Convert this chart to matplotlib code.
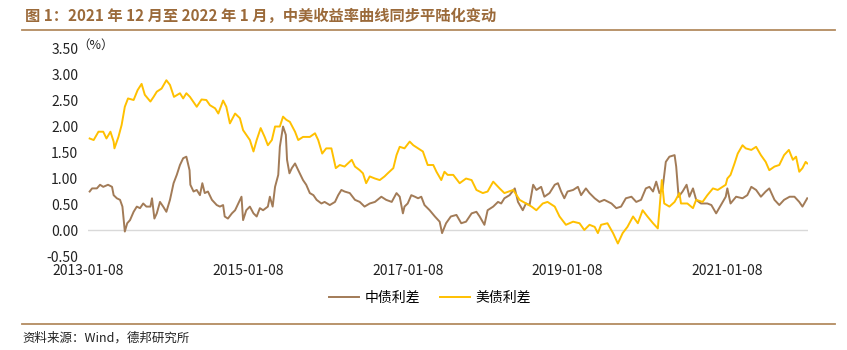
import matplotlib
matplotlib.use("Agg")
import matplotlib.pyplot as plt
import pandas as pd

plt.rcParams['font.family'] = ['Noto Sans CJK SC', 'DejaVu Sans']

# ---- data (decimal year, spread %) ----
us_t = [2013.04, 2013.09, 2013.15, 2013.21, 2013.25, 2013.30, 2013.34, 2013.35, 2013.40, 2013.44,
        2013.48, 2013.52, 2013.59, 2013.64, 2013.69, 2013.73, 2013.80, 2013.84, 2013.88, 2013.94,
        2014.00, 2014.045, 2014.095, 2014.17, 2014.21, 2014.25, 2014.295, 2014.38, 2014.44, 2014.50,
        2014.545, 2014.61, 2014.65, 2014.71, 2014.75, 2014.795, 2014.86, 2014.92, 2014.96, 2015.00,
        2015.045, 2015.09, 2015.13, 2015.18, 2015.23, 2015.27, 2015.32, 2015.36, 2015.42, 2015.46,
        2015.50, 2015.545, 2015.61, 2015.65, 2015.71, 2015.795, 2015.86, 2015.90, 2015.95, 2016.00,
        2016.065, 2016.12, 2016.17, 2016.23, 2016.32, 2016.36, 2016.42, 2016.46, 2016.50, 2016.545,
        2016.61, 2016.67, 2016.73, 2016.77, 2016.84, 2016.88, 2016.92, 2016.98, 2017.045, 2017.09,
        2017.15, 2017.21, 2017.27, 2017.34, 2017.38, 2017.44, 2017.48, 2017.52, 2017.59, 2017.67,
        2017.75, 2017.82, 2017.88, 2017.96, 2018.02, 2018.09, 2018.17, 2018.23, 2018.34, 2018.42,
        2018.50, 2018.57, 2018.63, 2018.71, 2018.77, 2018.86, 2018.92, 2019.00, 2019.09, 2019.17,
        2019.23, 2019.295, 2019.36, 2019.40, 2019.44, 2019.52, 2019.59, 2019.65, 2019.71, 2019.77,
        2019.84, 2019.90, 2019.96, 2020.02, 2020.09, 2020.15, 2020.17, 2020.20, 2020.23, 2020.295,
        2020.36, 2020.42, 2020.44, 2020.52, 2020.59, 2020.63, 2020.71, 2020.77, 2020.84, 2020.90,
        2020.96, 2021.00, 2021.02, 2021.06, 2021.11, 2021.15, 2021.21, 2021.25, 2021.32, 2021.38,
        2021.44, 2021.50, 2021.545, 2021.61, 2021.67, 2021.73, 2021.79, 2021.84, 2021.88, 2021.92,
        2021.96, 2022.00, 2022.02]
us_v = [1.76, 1.73, 1.89, 1.89, 1.76, 1.89, 1.70, 1.57, 1.79, 2.02,
        2.37, 2.53, 2.50, 2.69, 2.81, 2.60, 2.47, 2.56, 2.66, 2.72,
        2.88, 2.79, 2.56, 2.63, 2.53, 2.63, 2.56, 2.37, 2.51, 2.50,
        2.40, 2.34, 2.24, 2.49, 2.37, 2.05, 2.24, 2.15, 1.92, 1.83,
        1.73, 1.51, 1.73, 1.96, 1.79, 1.63, 1.73, 1.99, 1.99, 2.18,
        2.12, 2.08, 1.89, 1.73, 1.79, 1.79, 1.86, 1.73, 1.47, 1.57,
        1.57, 1.19, 1.25, 1.22, 1.35, 1.22, 1.15, 1.09, 0.90, 1.03,
        0.99, 0.96, 1.03, 1.09, 1.19, 1.44, 1.60, 1.57, 1.70, 1.63,
        1.57, 1.51, 1.25, 1.25, 1.12, 0.96, 1.12, 1.06, 1.06, 0.90,
        0.99, 0.96, 0.77, 0.71, 0.74, 0.93, 0.80, 0.71, 0.77, 0.58,
        0.51, 0.45, 0.38, 0.51, 0.54, 0.45, 0.26, 0.10, 0.16, 0.13,
        0.00, 0.10, 0.06, -0.06, 0.10, 0.13, -0.06, -0.26, -0.06, 0.06,
        0.26, 0.13, 0.38, 0.26, 0.13, 0.03, 0.38, 0.96, 0.51, 0.45,
        0.54, 0.71, 0.51, 0.51, 0.42, 0.58, 0.54, 0.67, 0.80, 0.77,
        0.83, 0.87, 0.99, 1.06, 1.28, 1.47, 1.63, 1.57, 1.54, 1.60,
        1.44, 1.31, 1.15, 1.22, 1.25, 1.44, 1.54, 1.35, 1.41, 1.12,
        1.19, 1.31, 1.28]

cn_t = [2013.04, 2013.07, 2013.13, 2013.17, 2013.21, 2013.27, 2013.32, 2013.34, 2013.38, 2013.42,
        2013.45, 2013.48, 2013.51, 2013.545, 2013.59, 2013.63, 2013.67, 2013.71, 2013.75, 2013.80,
        2013.82, 2013.85, 2013.88, 2013.92, 2013.96, 2014.00, 2014.045, 2014.09, 2014.13, 2014.17,
        2014.21, 2014.25, 2014.29, 2014.30, 2014.34, 2014.38, 2014.42, 2014.45, 2014.48, 2014.52,
        2014.57, 2014.63, 2014.67, 2014.71, 2014.73, 2014.77, 2014.82, 2014.86, 2014.90, 2014.94,
        2014.96, 2015.00, 2015.045, 2015.09, 2015.13, 2015.17, 2015.21, 2015.27, 2015.295, 2015.33,
        2015.36, 2015.40, 2015.42, 2015.46, 2015.495, 2015.51, 2015.54, 2015.57, 2015.61, 2015.65,
        2015.71, 2015.75, 2015.795, 2015.84, 2015.88, 2015.94, 2015.98, 2016.045, 2016.11, 2016.15,
        2016.19, 2016.23, 2016.295, 2016.36, 2016.42, 2016.48, 2016.545, 2016.61, 2016.69, 2016.75,
        2016.82, 2016.88, 2016.92, 2016.96, 2016.98, 2017.02, 2017.065, 2017.11, 2017.15, 2017.19,
        2017.23, 2017.295, 2017.36, 2017.42, 2017.45, 2017.50, 2017.56, 2017.63, 2017.69, 2017.75,
        2017.82, 2017.88, 2017.92, 2017.98, 2018.02, 2018.09, 2018.15, 2018.19, 2018.23, 2018.295,
        2018.36, 2018.40, 2018.46, 2018.50, 2018.545, 2018.59, 2018.63, 2018.69, 2018.73, 2018.795,
        2018.86, 2018.90, 2018.94, 2018.98, 2019.02, 2019.09, 2019.15, 2019.19, 2019.25, 2019.295,
        2019.36, 2019.42, 2019.48, 2019.57, 2019.63, 2019.69, 2019.75, 2019.82, 2019.88, 2019.94,
        2020.00, 2020.045, 2020.09, 2020.13, 2020.17, 2020.21, 2020.25, 2020.295, 2020.36, 2020.38,
        2020.41, 2020.46, 2020.51, 2020.545, 2020.59, 2020.63, 2020.69, 2020.77, 2020.82, 2020.88,
        2020.94, 2021.00, 2021.02, 2021.06, 2021.13, 2021.21, 2021.27, 2021.32, 2021.38, 2021.44,
        2021.50, 2021.545, 2021.61, 2021.67, 2021.73, 2021.80, 2021.86, 2021.92, 2021.96, 2022.02]
cn_v = [0.74, 0.80, 0.80, 0.87, 0.83, 0.87, 0.83, 0.67, 0.61, 0.58,
        0.45, -0.03, 0.13, 0.19, 0.35, 0.45, 0.42, 0.51, 0.45, 0.45,
        0.61, 0.22, 0.32, 0.54, 0.45, 0.35, 0.58, 0.90, 1.06, 1.25,
        1.38, 1.41, 1.15, 0.87, 0.74, 0.77, 0.67, 0.90, 0.71, 0.74,
        0.58, 0.48, 0.45, 0.48, 0.26, 0.22, 0.32, 0.38, 0.51, 0.64,
        0.19, 0.38, 0.45, 0.32, 0.26, 0.42, 0.38, 0.45, 0.64, 0.45,
        0.83, 1.06, 1.60, 1.99, 1.83, 1.35, 1.09, 1.19, 1.28, 1.15,
        0.96, 0.87, 0.71, 0.67, 0.58, 0.51, 0.54, 0.48, 0.54, 0.67,
        0.77, 0.74, 0.71, 0.58, 0.54, 0.45, 0.51, 0.54, 0.64, 0.58,
        0.54, 0.71, 0.64, 0.32, 0.45, 0.51, 0.67, 0.64, 0.61, 0.64,
        0.48, 0.38, 0.26, 0.16, -0.06, 0.13, 0.26, 0.29, 0.13, 0.16,
        0.32, 0.35, 0.26, 0.10, 0.38, 0.45, 0.54, 0.51, 0.61, 0.67,
        0.80, 0.54, 0.38, 0.51, 0.48, 0.87, 0.77, 0.83, 0.64, 0.71,
        0.87, 0.90, 0.74, 0.61, 0.74, 0.77, 0.83, 0.67, 0.80, 0.71,
        0.61, 0.54, 0.58, 0.51, 0.42, 0.45, 0.61, 0.64, 0.54, 0.58,
        0.80, 0.83, 0.74, 0.93, 0.71, 0.80, 1.31, 1.41, 1.44, 1.22,
        0.64, 0.74, 0.87, 0.64, 0.80, 0.58, 0.51, 0.51, 0.48, 0.32,
        0.48, 0.64, 0.80, 0.51, 0.64, 0.61, 0.67, 0.83, 0.77, 0.64,
        0.74, 0.80, 0.58, 0.48, 0.58, 0.64, 0.64, 0.54, 0.45, 0.61]

tick_dates = ['2013-01-08', '2015-01-08', '2017-01-08', '2019-01-08', '2021-01-08']
y_ticks = [-0.5, 0.0, 0.5, 1.0, 1.5, 2.0, 2.5, 3.0, 3.5]
series_names = ['中债利差', '美债利差']

title = '图 1：2021 年 12 月至 2022 年 1 月，中美收益率曲线同步平陆化变动'
source = '资料来源：Wind，德邦研究所'


def to_dates(ts):
    base = pd.Timestamp('2013-01-01')
    return [base + pd.Timedelta(days=(t - 2013.0) * 365.25) for t in ts]


C_CN = '#a27b57'
C_US = '#ffc000'
C_TITLE = '#9b6a3a'
C_RULE = '#b38b60'

fig = plt.figure(figsize=(8.47, 3.5), dpi=100)
ax = fig.add_axes([88 / 847, 1 - 256 / 350, 720 / 847, 208 / 350])

ax.plot(to_dates(cn_t), cn_v, color=C_CN, lw=1.4, label=series_names[0], zorder=3)
ax.plot(to_dates(us_t), us_v, color=C_US, lw=1.4, label=series_names[1], zorder=3)
ax.axhline(0, color='#d9d9d9', lw=1.0, zorder=1)

ax.set_ylim(-0.5, 3.5)
ax.set_yticks(y_ticks)
ax.set_yticklabels([f'{v:.2f}' for v in y_ticks])
xt = [pd.Timestamp(d) for d in tick_dates]
ax.set_xticks(xt)
ax.set_xticklabels(tick_dates)
ax.set_xlim(pd.Timestamp('2013-01-08'), pd.Timestamp('2022-01-12'))
for s in ax.spines.values():
    s.set_visible(False)
ax.tick_params(axis='both', length=0, labelsize=10, colors='#222222')
ax.tick_params(axis='y', pad=7)
ax.tick_params(axis='x', pad=6)

fig.text(77 / 847, 1 - 45 / 350, '（%）', fontsize=9, color='#222222', va='center', ha='left')

fig.text(25 / 847, 1 - 16 / 350, title, fontsize=11, fontweight='bold', color=C_TITLE,
         va='center', ha='left')
fig.add_artist(plt.Line2D([22 / 847, 835 / 847], [1 - 30 / 350, 1 - 30 / 350],
                          color=C_RULE, lw=1.3, transform=fig.transFigure))
fig.add_artist(plt.Line2D([22 / 847, 835 / 847], [1 - 324 / 350, 1 - 324 / 350],
                          color=C_RULE, lw=1.3, transform=fig.transFigure))
fig.text(22 / 847, 1 - 338 / 350, source, fontsize=9, color='#222222', va='center', ha='left')

leg = fig.legend(loc='center', bbox_to_anchor=(430 / 847, 1 - 298 / 350), ncol=2, frameon=False,
                 fontsize=10, handlelength=2.2, columnspacing=1.4, handletextpad=0.4)

fig.savefig('out.png', dpi=100)
